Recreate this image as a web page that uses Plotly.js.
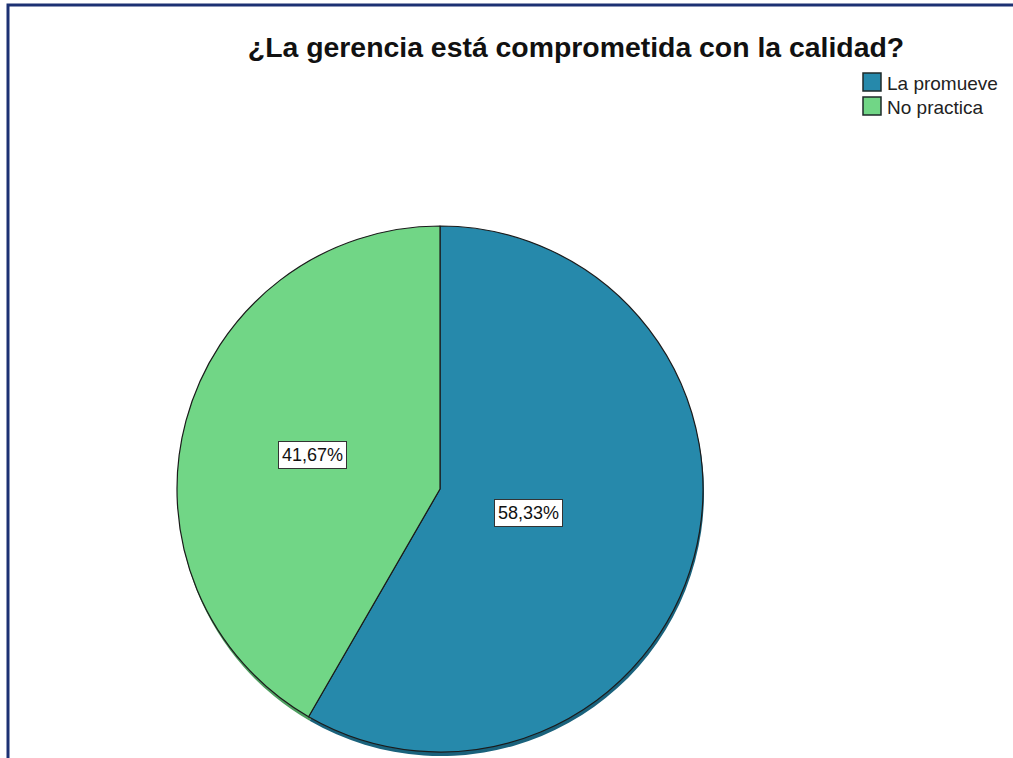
<!DOCTYPE html>
<html>
<head>
<meta charset="utf-8">
<script src="https://cdn.plot.ly/plotly-3.0.1.min.js"></script>
<style>html,body{margin:0;padding:0;background:#fff;}#chart{width:1013px;height:758px;}</style>
</head>
<body>
<div id="chart"></div>
<script>
var categories = ["La promueve", "No practica"];
var percentValues = [58.33, 41.67];
var chartTitle = "¿La gerencia está comprometida con la calidad?";

var W = 1013, H = 758;
var colors = ["rgb(38,137,171)", "rgb(113,214,134)"];
var shadowColors = ["rgb(26,98,124)", "rgb(78,158,96)"];
var cx = 440, cy = 489, R = 263;
var labelRadius = [0.35, 0.5];
var legendLeft = 863, legendTop = 73, swatch = 18, legendRow = 24;

function px2x(p){ return p / W; }
function py2y(p){ return 1 - p / H; }

var mainDomain = {x:[px2x(cx-R), px2x(cx+R)], y:[py2y(cy+R), py2y(cy-R)]};
var shadowDomain = {x:[px2x(cx-R+1), px2x(cx+R+1)], y:[py2y(cy+R+4), py2y(cy-R+4)]};

var shadow = {
  type: "pie", labels: categories, values: percentValues,
  sort: false, direction: "clockwise", rotation: 0,
  domain: shadowDomain, textinfo: "none", hoverinfo: "skip", showlegend: false,
  marker: {colors: shadowColors, line: {color: "rgba(0,0,0,0)", width: 0}}
};
var main = {
  type: "pie", labels: categories, values: percentValues,
  sort: false, direction: "clockwise", rotation: 0,
  domain: mainDomain, textinfo: "none", showlegend: false,
  marker: {colors: colors, line: {color: "#1b1b1b", width: 1.2}}
};

var total = percentValues.reduce(function(a,b){return a+b;}, 0);
var annotations = [];
var shapes = [];
var cum = 0;
percentValues.forEach(function(v, i){
  var mid = (cum + v/2) / total * 2 * Math.PI;
  cum += v;
  var fx = cx + labelRadius[i] * R * Math.sin(mid);
  var fy = cy - labelRadius[i] * R * Math.cos(mid);
  annotations.push({
    xref: "paper", yref: "paper", x: px2x(fx), y: py2y(fy),
    xanchor: "center", yanchor: "middle", showarrow: false,
    text: v.toFixed(2).replace(".", ",") + "%",
    font: {family: "Liberation Sans, Arial, sans-serif", size: 18, color: "#111"},
    bgcolor: "#ffffff", bordercolor: "#333", borderwidth: 1, borderpad: 3
  });
});

// legend built from categories / colors
categories.forEach(function(c, i){
  var top = legendTop + i * legendRow;
  shapes.push({
    type: "rect", xref: "paper", yref: "paper",
    x0: px2x(legendLeft), x1: px2x(legendLeft + swatch),
    y0: py2y(top + swatch), y1: py2y(top),
    fillcolor: colors[i], line: {color: "#1e2a2a", width: 1.5}
  });
  annotations.push({
    xref: "paper", yref: "paper", x: px2x(legendLeft + swatch + 4), y: py2y(top + swatch / 2 + 1),
    xanchor: "left", yanchor: "middle", showarrow: false, text: c,
    font: {family: "Liberation Sans, Arial, sans-serif", size: 19, color: "#222"}
  });
});

shapes.push({
  type: "rect", xref: "paper", yref: "paper",
  x0: px2x(8), x1: px2x(W + 10), y0: py2y(H + 10), y1: py2y(5),
  line: {color: "#1c3173", width: 3}, fillcolor: "rgba(0,0,0,0)", layer: "above"
});

var layout = {
  width: W, height: H,
  margin: {l:0, r:0, t:0, b:0},
  paper_bgcolor: "#ffffff",
  title: {
    text: "<b>" + chartTitle + "</b>",
    font: {family: "Liberation Sans, Arial, sans-serif", size: 28.4, color: "#111"},
    x: px2x(576), xanchor: "center", y: py2y(47), yanchor: "middle"
  },
  showlegend: false,
  annotations: annotations,
  shapes: shapes
};

Plotly.newPlot("chart", [shadow, main], layout, {displayModeBar: false, staticPlot: true});
</script>
</body>
</html>
